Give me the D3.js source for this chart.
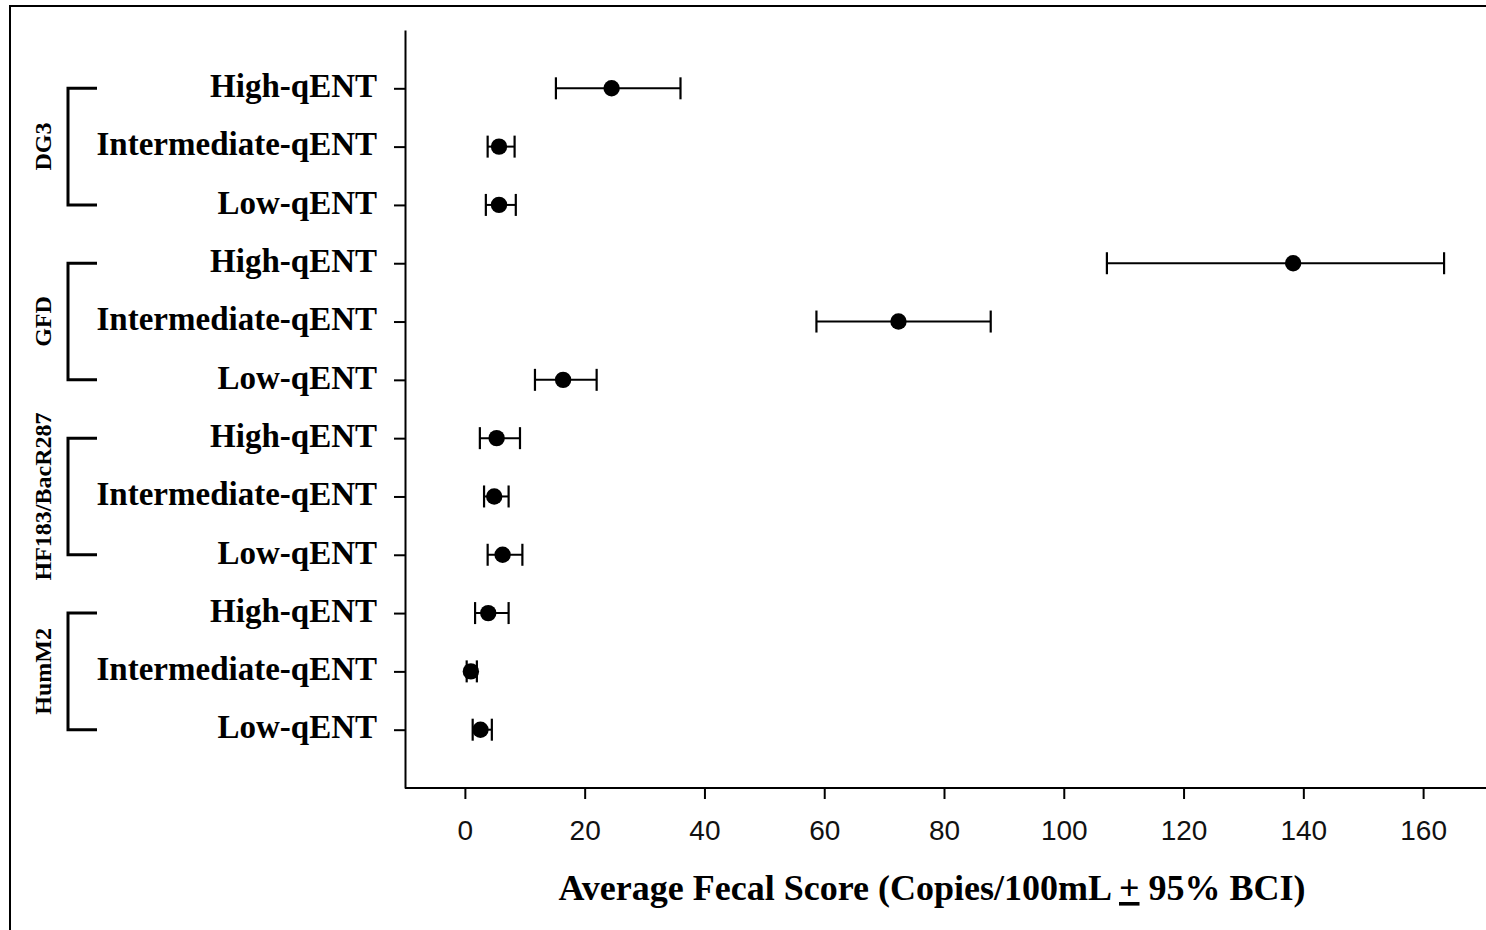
<!DOCTYPE html>
<html><head><meta charset="utf-8">
<script src="https://cdn.jsdelivr.net/npm/d3@7"></script>
<style>html,body{margin:0;padding:0;background:#fff;overflow:hidden}</style>
</head><body>
<svg id="chart" width="1486" height="930"></svg>
<script>
const groups = ["DG3", "GFD", "HF183/BacR287", "HumM2"];
const levels = ["High-qENT", "Intermediate-qENT", "Low-qENT"];
// per group, in level order: High, Intermediate, Low
const means = [
  [24.5, 5.7, 5.7],
  [138.3, 72.4, 16.4],
  [5.3, 4.9, 6.3],
  [3.9, 1.0, 2.6]
];
const lower = [
  [15.2, 3.8, 3.5],
  [107.2, 58.7, 11.7],
  [2.5, 3.2, 3.8],
  [1.7, 0.3, 1.3]
];
const upper = [
  [36.0, 8.3, 8.5],
  [163.5, 87.8, 22.0],
  [9.2, 7.3, 9.6],
  [7.3, 2.0, 4.5]
];
const xTicks = [0, 20, 40, 60, 80, 100, 120, 140, 160];
const xTitleA = "Average Fecal Score (Copies/100mL ";
const xTitlePm = "+";
const xTitleB = " 95% BCI)";

const rows = [];
groups.forEach((g, gi) => levels.forEach((l, li) => {
  rows.push({group: g, level: l, idx: gi * 3 + li + 1, m: means[gi][li], lo: lower[gi][li], hi: upper[gi][li]});
}));

const svg = d3.select("#chart");
const x = d3.scaleLinear().domain([-10, 170]).range([405, 1483]);
const y = d3.scaleLinear().domain([0, 13]).range([30, 788]);

// outer frame
svg.append("rect").attr("x", 10).attr("y", 6).attr("width", 1500).attr("height", 950)
  .attr("fill", "none").attr("stroke", "#000").attr("stroke-width", 2);

// x axis
const xAxis = svg.append("g").attr("transform", "translate(0,788)")
  .call(d3.axisBottom(x).tickValues(xTicks).tickSize(11).tickSizeOuter(0).tickPadding(21));
xAxis.select(".domain").attr("stroke-width", 2).attr("d", "M405,0H1486");
xAxis.selectAll(".tick line").attr("stroke-width", 2);
xAxis.selectAll(".tick text").attr("font-family", "'Liberation Sans', Arial, sans-serif")
  .attr("font-size", 28).attr("fill", "#111").attr("dy", "0.71em");

// y axis
const yAxis = svg.append("g").attr("transform", "translate(405,0)")
  .call(d3.axisLeft(y).tickValues(rows.map(r => r.idx)).tickSize(11).tickSizeOuter(0)
    .tickFormat(d => rows[d - 1].level).tickPadding(17));
yAxis.select(".domain").attr("stroke-width", 2);
yAxis.selectAll(".tick line").attr("stroke-width", 2);
yAxis.selectAll(".tick text").attr("font-family", "'Liberation Serif', 'Times New Roman', serif")
  .attr("font-weight", "bold").attr("font-size", 33).attr("fill", "#000").attr("dy", "0.25em");

// error bars
const eb = svg.append("g").selectAll("g").data(rows).join("g");
eb.append("line").attr("x1", d => x(d.lo)).attr("x2", d => x(d.hi))
  .attr("y1", d => y(d.idx)).attr("y2", d => y(d.idx)).attr("stroke", "#000").attr("stroke-width", 2);
eb.append("line").attr("x1", d => x(d.lo)).attr("x2", d => x(d.lo))
  .attr("y1", d => y(d.idx) - 11).attr("y2", d => y(d.idx) + 11).attr("stroke", "#000").attr("stroke-width", 2.2);
eb.append("line").attr("x1", d => x(d.hi)).attr("x2", d => x(d.hi))
  .attr("y1", d => y(d.idx) - 11).attr("y2", d => y(d.idx) + 11).attr("stroke", "#000").attr("stroke-width", 2.2);
eb.append("circle").attr("cx", d => x(d.m)).attr("cy", d => y(d.idx)).attr("r", 8.2).attr("fill", "#000");

// group brackets and labels
groups.forEach((g, gi) => {
  const y1 = y(gi * 3 + 1), y3 = y(gi * 3 + 3), ym = y(gi * 3 + 2);
  svg.append("path").attr("d", `M97,${y1}H68V${y3}H97`).attr("fill", "none")
    .attr("stroke", "#000").attr("stroke-width", 3);
  svg.append("text").attr("transform", `translate(51,${ym}) rotate(-90)`)
    .attr("text-anchor", "middle").attr("font-family", "'Liberation Serif', 'Times New Roman', serif")
    .attr("font-weight", "bold").attr("font-size", 24).attr("fill", "#000").text(g);
});

// x title
const t = svg.append("text").attr("x", 932).attr("y", 900).attr("text-anchor", "middle")
  .attr("font-family", "'Liberation Serif', 'Times New Roman', serif").attr("font-weight", "bold")
  .attr("font-size", 36).attr("fill", "#000");
t.append("tspan").text(xTitleA);
t.append("tspan").attr("text-decoration", "underline").text(xTitlePm);
t.append("tspan").text(xTitleB);
</script>
</body></html>
